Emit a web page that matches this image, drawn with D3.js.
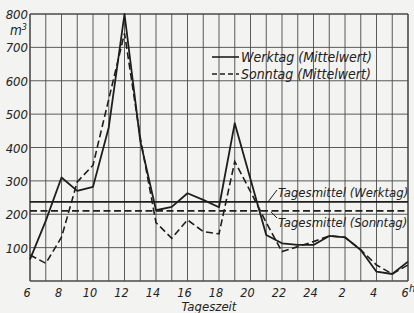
<!DOCTYPE html>
<html>
<head>
<meta charset="utf-8">
<script src="https://cdn.jsdelivr.net/npm/d3@7"></script>
<style>
  body { margin: 0; background: #f3f3f1; }
  text { font-family: "DejaVu Sans Condensed", "DejaVu Sans", sans-serif; font-style: italic; fill: #222; }
</style>
</head>
<body>
<div id="container"></div>
<script>
// hours of the day, 6 h to 6 h next morning
const hours = d3.range(6, 31)
const werktag = [65, 180, 310, 270, 282, 460, 800, 420, 212, 222, 263, 243, 221, 473, 305, 138, 113, 108, 108, 135, 131, 93, 28, 21, 58]
const sonntag = [78, 53, 131, 297, 347, 545, 742, 430, 175, 128, 183, 148, 141, 358, 268, 175, 88, 103, 118, 135, 131, 93, 48, 21, 48]
const mittelWerktag = 237
const mittelSonntag = 210
const yTicks = [100, 200, 300, 400, 500, 600, 700, 800]
const xTicks = [6, 8, 10, 12, 14, 16, 18, 20, 22, 24, 26, 28, 30]
const xTickLabels = ["6", "8", "10", "12", "14", "16", "18", "20", "22", "24", "2", "4", "6"]

const width = 414
const height = 313
const linecolor = "#1e1e1e"
const gridcolor = "#4a4a4a"
const dash = "7,3.5"

const svg = d3.select("#container").append("svg").attr("width", width).attr("height", height)

const x = d3.scaleLinear().domain([6, 30]).range([30, 408])
const y = d3.scaleLinear().domain([0, 800]).range([281, 14])

// grid
svg.append("g").selectAll("line")
  .data(hours)
  .enter().append("line")
  .attr("x1", d => x(d)).attr("x2", d => x(d))
  .attr("y1", y(0)).attr("y2", y(800))
  .attr("stroke", gridcolor)
  .attr("stroke-width", d => (d == 6 || d == 30) ? 1.6 : 0.9)

svg.append("g").selectAll("line")
  .data(d3.range(0, 900, 100))
  .enter().append("line")
  .attr("x1", x(6)).attr("x2", x(30))
  .attr("y1", d => y(d)).attr("y2", d => y(d))
  .attr("stroke", gridcolor)
  .attr("stroke-width", d => (d == 0 || d == 800) ? 1.6 : 0.9)

// y labels
svg.append("g").selectAll("text")
  .data(yTicks)
  .enter().append("text")
  .attr("x", 28).attr("y", d => y(d) + 5)
  .attr("text-anchor", "end")
  .attr("font-size", 13)
  .text(d => d)

const unit = svg.append("text").attr("x", 10).attr("y", 35).attr("font-size", 13.5)
unit.append("tspan").text("m")
unit.append("tspan").attr("dy", -5).attr("font-size", 9).text("3")

// x labels
svg.append("g").selectAll("text")
  .data(xTicks)
  .enter().append("text")
  .attr("x", d => x(d) - 3).attr("y", 297)
  .attr("text-anchor", "middle")
  .attr("font-size", 12.5)
  .text((d, i) => xTickLabels[i])

svg.append("text").attr("x", 409).attr("y", 292).attr("font-size", 11).text("h")

svg.append("text").attr("x", 209).attr("y", 311)
  .attr("text-anchor", "middle").attr("font-size", 13)
  .text("Tageszeit")

// mean lines
svg.append("line")
  .attr("x1", x(6)).attr("x2", x(30))
  .attr("y1", y(mittelWerktag)).attr("y2", y(mittelWerktag))
  .attr("stroke", linecolor).attr("stroke-width", 1.8)

svg.append("line")
  .attr("x1", x(6)).attr("x2", x(30))
  .attr("y1", y(mittelSonntag)).attr("y2", y(mittelSonntag))
  .attr("stroke", linecolor).attr("stroke-width", 1.8)
  .attr("stroke-dasharray", dash)

// series
const lineGenerator = d3.line()
  .x((d, i) => x(hours[i]))
  .y(d => y(d))

svg.append("path")
  .attr("d", lineGenerator(werktag))
  .attr("fill", "none")
  .attr("stroke", linecolor)
  .attr("stroke-width", 1.8)
  .attr("stroke-linejoin", "round")

svg.append("path")
  .attr("d", lineGenerator(sonntag))
  .attr("fill", "none")
  .attr("stroke", linecolor)
  .attr("stroke-width", 1.6)
  .attr("stroke-dasharray", dash)

// legend
svg.append("line").attr("x1", 212).attr("x2", 239).attr("y1", 57).attr("y2", 57)
  .attr("stroke", linecolor).attr("stroke-width", 1.6)
svg.append("line").attr("x1", 212).attr("x2", 239).attr("y1", 74).attr("y2", 74)
  .attr("stroke", linecolor).attr("stroke-width", 1.6).attr("stroke-dasharray", "5,3")
svg.append("text").attr("x", 241).attr("y", 62).attr("font-size", 14).text("Werktag (Mittelwert)")
svg.append("text").attr("x", 241).attr("y", 79).attr("font-size", 14).text("Sonntag (Mittelwert)")

// mean labels with leaders
svg.append("line").attr("x1", 268).attr("y1", y(mittelWerktag)).attr("x2", 277).attr("y2", 190)
  .attr("stroke", linecolor).attr("stroke-width", 1)
svg.append("text").attr("x", 278).attr("y", 197).attr("font-size", 13).text("Tagesmittel (Werktag)")

svg.append("line").attr("x1", 271).attr("y1", y(mittelSonntag) + 1).attr("x2", 277).attr("y2", 218)
  .attr("stroke", linecolor).attr("stroke-width", 1)
svg.append("text").attr("x", 278).attr("y", 227).attr("font-size", 13).text("Tagesmittel (Sonntag)")
</script>
</body>
</html>
